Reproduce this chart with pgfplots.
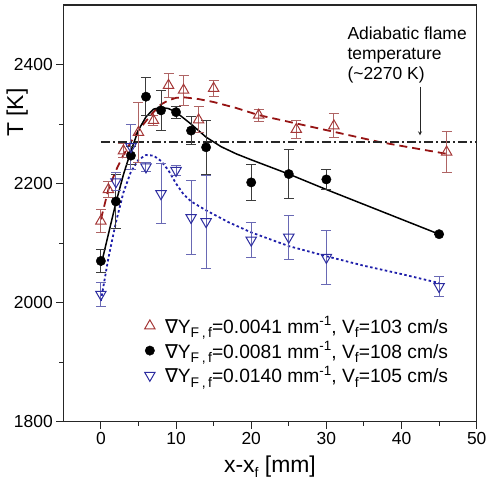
\documentclass[border=0pt]{standalone}
\usepackage{fontspec}
\setmainfont{Liberation Sans}
\newfontfamily\dejavu{DejaVu Sans}
\usepackage{pgfplots}
\pgfplotsset{compat=1.18}
\definecolor{rmark}{RGB}{165,55,55}
\definecolor{rerr}{RGB}{175,100,100}
\definecolor{rline}{RGB}{150,20,20}
\definecolor{bmark}{RGB}{45,45,160}
\definecolor{berr}{RGB}{105,105,180}
\definecolor{bline}{RGB}{30,30,170}
\definecolor{kerr}{RGB}{60,60,60}
\newcommand{\sbs}[1]{\raisebox{-4.5bp}{\fontsize{14}{14}\selectfont #1}}
\newcommand{\sps}[1]{\raisebox{7.5bp}{\fontsize{13.5}{13.5}\selectfont #1}}
\newcommand{\leg}[3]{{\dejavu ∇}Y\sbs{F\hspace{2.5bp},\hspace{2.5bp}f}=#1 mm\sps{-1}, V\sbs{f}=#2 cm/s}
\begin{document}
\begin{tikzpicture}
\begin{axis}[
 name=ax, at={(0,0)}, anchor=south west,
 scale only axis, width=413.4bp, height=416.7bp,
 xmin=-5, xmax=50, ymin=1800, ymax=2500,
 xtick={0,10,...,50}, ytick={1800,2000,2200,2400},
 minor x tick num=1, minor y tick num=1,
 tick align=outside, xtick pos=bottom, ytick pos=left,
 major tick length=7bp, minor tick length=4bp,
 /pgf/number format/assume math mode=true,
 /pgf/number format/set thousands separator={},
 tick label style={font=\fontsize{17.5}{20}\selectfont},
 axis line style={line width=1.2bp, black!85},
 every tick/.style={line width=1bp, black!85},
 clip=false,
 legend style={draw=none, fill=none, inner sep=0pt, anchor=north west,
   at={(axis cs:5.8,1980)}, font=\fontsize{19.3}{22}\selectfont,
   cells={anchor=west}, row sep=2.5bp, column sep=8bp},
]
% fitted curves
\addplot[forget plot, rline, line width=1.8bp, dash pattern=on 8bp off 5bp] coordinates {
(0,2140) (1,2190) (2,2222) (3,2248) (4,2270) (5,2289) (6,2305) (7,2320) (8,2333) (9,2340) (10,2344) (11,2345) (13,2342) (15,2337) (18,2327) (21,2315) (26,2301) (31,2287) (37,2270) (41,2261) (46,2250)};
\addplot[forget plot, black, line width=1.5bp] coordinates {
(0,2062) (1,2115) (2,2168) (3,2215) (4,2255) (5,2290) (6,2312) (7,2325) (8,2328) (9,2326) (10,2320) (12,2300) (14,2278) (16,2262) (18,2250) (20,2240) (25,2216) (30,2190) (35,2165) (40,2140) (45,2115)};
\addplot[forget plot, bline, line width=1.8bp, dash pattern=on 2.5bp off 2.5bp] coordinates {
(0,2003) (1,2075) (2,2135) (3,2185) (4,2220) (5,2240) (6,2248) (7,2247) (8,2238) (9,2222) (10,2200) (11,2182) (12,2170) (14,2155) (17,2135) (20,2118) (25,2095) (30,2078) (35,2062) (40,2048) (45,2033)};
% adiabatic flame temperature
\addplot[forget plot, black!85, line width=1.5bp, dash pattern=on 9bp off 3bp on 2bp off 3bp] coordinates {(0,2270) (50,2270)};
% data
\addplot[rmark, only marks, mark=triangle, mark size=6bp, mark options={line width=1bp, fill=white},
 error bars/.cd, y dir=both, y explicit,
 error bar style={rerr, line width=1bp},
 error mark options={rotate=90, mark size=5bp, rerr, line width=1bp}]
 coordinates {
(0,2137) +- (0,20)
(1,2190) +- (0,14)
(3,2255) +- (0,12)
(5,2286) +- (0,50)
(7,2306) +- (0,8)
(9,2365) +- (0,20)
(11,2357) +- (0,25)
(13,2307) +- (0,22)
(15,2360) +- (0,14)
(21,2315) +- (0,10)
(26,2291) +- (0,15)
(31,2297) +- (0,20)
(46,2253) +- (0,34)
};
\addlegendentry{\leg{0.0041}{103}{}}
\addplot[black, only marks, mark=*, mark size=4.7bp, mark options={fill=black},
 error bars/.cd, y dir=both, y explicit,
 error bar style={kerr, line width=1bp},
 error mark options={rotate=90, mark size=5bp, kerr, line width=1bp}]
 coordinates {
(0,2070) +- (0,19)
(2,2170) +- (0,45)
(4,2247) +- (0,15)
(6,2346) +- (0,32)
(8,2323) +- (0,33)
(10,2320) +- (0,10)
(12,2289) +- (0,24)
(14,2261) +- (0,45)
(20,2202) +- (0,30)
(25,2216) +- (0,41)
(30,2207) +- (0,17)
(45,2115) +- (0,0)
};
\addlegendentry{\leg{0.0081}{108}{}}
\addplot[bmark, only marks, mark=triangle, mark size=6bp, mark options={rotate=180, line width=1bp, fill=white},
 error bars/.cd, y dir=both, y explicit,
 error bar style={berr, line width=1bp},
 error mark options={rotate=90, mark size=5bp, berr, line width=1bp}]
 coordinates {
(0,2014) +- (0,20)
(2,2203) +- (0,15)
(4,2262) +- (0,38)
(6,2228) +- (0,8)
(8,2183) +- (0,50)
(10,2222) +- (0,8)
(12,2143) +- (0,62)
(14,2136) +- (0,78)
(20,2105) +- (0,30)
(25,2110) +- (0,37)
(30,2076) +- (0,46)
(45,2027) +- (0,17)
};
\addlegendentry{\leg{0.0140}{105}{}}
% labels and annotation
\node[rotate=90, anchor=base, font=\fontsize{23}{26}\selectfont] at (axis cs:-10.36,2319) {T [K]};
\node[anchor=base, font=\fontsize{23}{26}\selectfont] at (axis cs:22.5,1714) {x-x\sbs{f} [mm]};
\node[anchor=base west, inner sep=0pt, font=\fontsize{17.5}{20}\selectfont] at (axis cs:32.79,2442.5) {Adiabatic flame};
\node[anchor=base west, inner sep=0pt, font=\fontsize{17.5}{20}\selectfont] at (axis cs:32.79,2408.7) {temperature};
\node[anchor=base west, inner sep=0pt, font=\fontsize{17.5}{20}\selectfont] at (axis cs:32.79,2375) {(\textasciitilde2270 K)};
\draw[-stealth, line width=0.8bp, black!85] (axis cs:42.46,2363) -- (axis cs:42.46,2281);
\end{axis}
\pgfresetboundingbox
\path (-63.3bp,-61.3bp) rectangle (424.7bp,421.7bp);
\end{tikzpicture}
\end{document}
